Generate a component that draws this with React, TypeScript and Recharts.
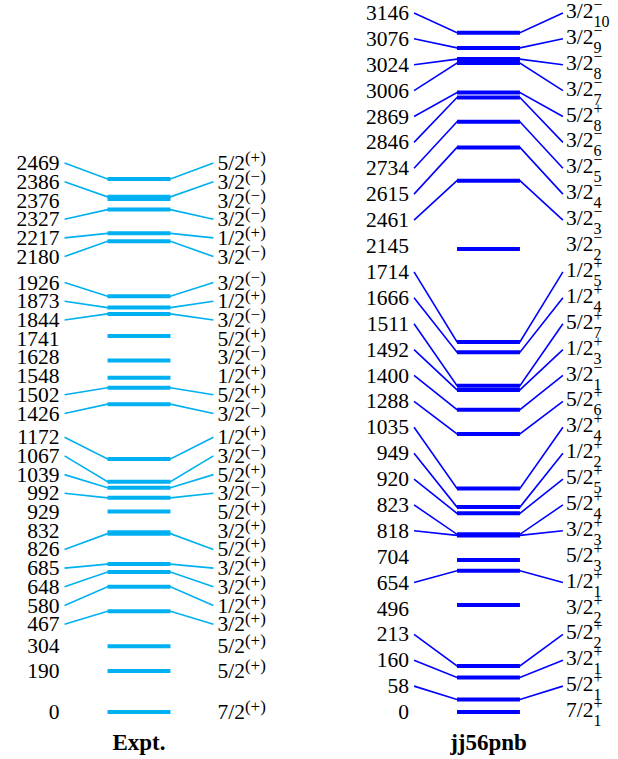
import React from "react";
import { ComposedChart, Line, XAxis, YAxis } from "recharts";

// experimental levels (keV), ascending
const exptEnergies = [0, 190, 304, 467, 580, 648, 685, 826, 832, 929, 992, 1039, 1067, 1172, 1426, 1502, 1548, 1628, 1741, 1844, 1873, 1926, 2180, 2217, 2327, 2376, 2386, 2469];
const exptJ = ["7/2", "5/2", "5/2", "3/2", "1/2", "3/2", "3/2", "5/2", "3/2", "5/2", "3/2", "5/2", "3/2", "1/2", "3/2", "5/2", "1/2", "3/2", "5/2", "3/2", "1/2", "3/2", "3/2", "1/2", "3/2", "3/2", "3/2", "5/2"];
const exptParity = ["+", "+", "+", "+", "+", "+", "+", "+", "+", "+", "−", "+", "−", "+", "−", "+", "+", "−", "+", "−", "+", "−", "−", "+", "−", "−", "−", "+"];

// shell model jj56pnb levels (keV), ascending
const calcEnergies = [0, 58, 160, 213, 496, 654, 704, 818, 823, 920, 949, 1035, 1288, 1400, 1492, 1511, 1666, 1714, 2145, 2461, 2615, 2734, 2846, 2869, 3006, 3024, 3076, 3146];
const calcJ = ["7/2", "5/2", "3/2", "5/2", "3/2", "1/2", "5/2", "3/2", "5/2", "5/2", "1/2", "3/2", "5/2", "3/2", "1/2", "5/2", "1/2", "1/2", "3/2", "3/2", "3/2", "3/2", "3/2", "5/2", "3/2", "3/2", "3/2", "3/2"];
const calcParity = ["+", "+", "+", "+", "+", "+", "+", "+", "+", "+", "+", "+", "+", "−", "+", "+", "+", "+", "−", "−", "−", "−", "−", "+", "−", "−", "−", "−"];
const calcIndex = ["1", "1", "1", "2", "2", "1", "3", "3", "4", "5", "2", "4", "6", "1", "3", "7", "4", "5", "2", "3", "4", "5", "6", "8", "7", "8", "9", "10"];

const columnNames = ["Expt.", "jj56pnb"];

const FONT = "'Liberation Serif', 'Times New Roman', serif";
const W = 618;
const H = 759;
const Y_MIN = -32.4;
const Y_MAX = 3297.8;
const X_MIN = -0.3977;
const X_MAX = 1.3706;
const BAR_HALF = 0.09;
const LINK = 0.123;
const LABEL_TOP = Y_MAX - 60;

// place labels as close to their levels as possible, keeping a minimum gap
function spreadLabels(E: number[], gap: number, lo: number, hi: number) {
  const blocks: { sum: number; cnt: number }[] = [];
  E.forEach((e, i) => {
    blocks.push({ sum: e - i * gap, cnt: 1 });
    while (blocks.length > 1) {
      const a = blocks[blocks.length - 2];
      const b = blocks[blocks.length - 1];
      if (a.sum / a.cnt <= b.sum / b.cnt) break;
      a.sum += b.sum;
      a.cnt += b.cnt;
      blocks.pop();
    }
  });
  const zmax = Math.max(lo, hi - (E.length - 1) * gap);
  const out: number[] = [];
  blocks.forEach((b) => {
    const z = Math.min(Math.max(b.sum / b.cnt, lo), zmax);
    for (let k = 0; k < b.cnt; k++) out.push(z + out.length * gap);
  });
  return out;
}

const columns = [
  {
    energies: exptEnergies,
    color: "#00b0f0",
    labels: spreadLabels(exptEnergies, 86.6, 0, LABEL_TOP),
    spin: (i: number) => ({ j: exptJ[i], p: `(${exptParity[i]})`, n: "" }),
  },
  {
    energies: calcEnergies,
    color: "#0000ff",
    labels: spreadLabels(calcEnergies, 119.9, 0, LABEL_TOP),
    spin: (i: number) => ({ j: calcJ[i], p: calcParity[i], n: calcIndex[i] }),
  },
];

const makeLabelDot = (energy: number, spin: { j: string; p: string; n: string }) => (props: any) => {
  const { cx, cy, index } = props;
  if (index === 0) {
    return (
      <text key={`e-${index}`} x={cx - 5} y={cy} dy="0.33em" textAnchor="end" fontFamily={FONT} fontSize={21.5} fill="#000">
        {energy}
      </text>
    );
  }
  if (index === 3) {
    if (!spin.n) {
      return (
        <text key={`s-${index}`} x={cx + 4} y={cy} dy="0.33em" fontFamily={FONT} fontSize={21.5} fill="#000">
          {spin.j}
          <tspan dy={-7} fontSize={17}>{spin.p}</tspan>
        </text>
      );
    }
    return (
      <text key={`s-${index}`} x={cx + 3} y={cy - 2} dy="0.33em" fontFamily={FONT} fontSize={21.5} fill="#000">
        {spin.j}
        <tspan dy={9} fontSize={16}>{spin.n}</tspan>
        <tspan dx={-8 * spin.n.length} dy={-17} fontSize={16}>{spin.p}</tspan>
      </text>
    );
  }
  return <g key={`n-${index}`} />;
};

const ColumnTick = (props: any) => {
  const { x, y, payload } = props;
  return (
    <text x={x} y={y + 23} textAnchor="middle" fontFamily={FONT} fontWeight="bold" fontSize={23} fill="#000">
      {columnNames[payload.value]}
    </text>
  );
};

export default function App() {
  const series: React.ReactNode[] = [];
  columns.forEach((col, c) => {
    col.energies.forEach((e, i) => {
      const lab = col.labels[i];
      const moved = Math.abs(lab - e) > 18;
      series.push(
        <Line
          key={`link-${c}-${i}`}
          data={[
            { x: c - BAR_HALF - LINK, y: lab },
            { x: c - BAR_HALF, y: e },
            { x: c + BAR_HALF, y: e },
            { x: c + BAR_HALF + LINK, y: lab },
          ]}
          dataKey="y"
          stroke={moved ? col.color : "none"}
          strokeWidth={1.6}
          dot={makeLabelDot(e, col.spin(i))}
          activeDot={false}
          isAnimationActive={false}
        />
      );
    });
    col.energies.forEach((e, i) => {
      series.push(
        <Line
          key={`bar-${c}-${i}`}
          data={[
            { x: c - BAR_HALF, y: e },
            { x: c + BAR_HALF, y: e },
          ]}
          dataKey="y"
          stroke={col.color}
          strokeWidth={4}
          dot={false}
          activeDot={false}
          isAnimationActive={false}
        />
      );
    });
  });

  return (
    <div style={{ position: "absolute", left: 0, top: 0, background: "#fff" }}>
      <ComposedChart width={W} height={H} margin={{ top: 0, right: 0, bottom: 0, left: 0 }}>
        <XAxis
          type="number"
          dataKey="x"
          domain={[X_MIN, X_MAX]}
          ticks={[0, 1]}
          axisLine={false}
          tickLine={false}
          height={40}
          tick={<ColumnTick />}
        />
        <YAxis type="number" domain={[Y_MIN, Y_MAX]} hide width={0} />
        {series}
      </ComposedChart>
    </div>
  );
}
